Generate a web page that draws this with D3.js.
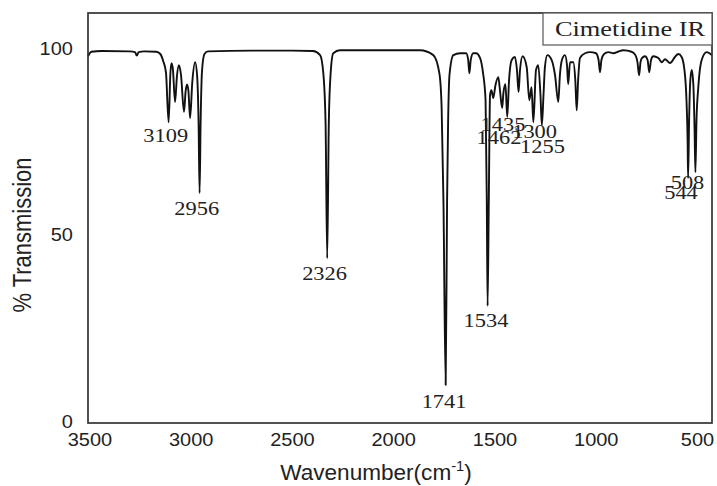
<!DOCTYPE html>
<html><head><meta charset="utf-8">
<script src="https://cdn.jsdelivr.net/npm/d3@7"></script>
<style>body{margin:0;background:#fff}</style>
</head><body><svg id="c" width="717" height="486"></svg>
<script>
// ---- data ----
const wavenumber = [3507,3490,3440,3300,3275,3266,3257,3230,3170,3150,3135,3122,3109,3100,3095,3088,3077,3068,3058,3048,3033,3025,3018,3011,3003,2992,2978,2968,2961,2956,2951,2944,2932,2915,2700,2500,2396,2361,2345,2334,2326,2318,2309,2296,2263,2000,1868,1802,1772,1761,1752,1741,1734,1729,1722,1703,1670,1640,1630,1624,1617,1605,1591,1571,1557,1544,1538,1534,1528,1522,1515,1506,1495,1481,1473,1462,1456,1446,1437,1428,1415,1399,1389,1381,1374,1361,1341,1328,1317,1308,1295,1284,1273,1266,1258,1251,1239,1218,1201,1185,1177,1167,1152,1142,1136,1127,1111,1101,1094,1087,1078,1053,1028,999,986,979,972,959,938,913,890,864,823,804,794,786,779,772,757,744,736,727,716,691,674,658,633,609,592,576,562,552,546.5,544,539,533,526,518,512,508,502.5,494,477,452,427];
const transmission = [97.9,99.1,99.3,99.2,99.0,98.1,99.0,99.2,99.1,98.5,96.5,93.5,80.2,93.5,96.0,94.5,85.6,92.5,95.5,93.0,83.0,88.5,90.3,88.5,81.3,91.0,96.3,92.5,80.0,61.2,80.0,94.0,98.5,99.2,99.4,99.4,99.3,98.2,93.3,80.0,43.7,80.0,93.3,98.7,99.5,99.5,99.5,98.2,93.3,84.3,59.3,9.7,59.3,80.0,93.0,98.2,98.7,98.7,97.0,93.3,97.0,98.7,98.7,97.4,93.6,86.1,59.3,30.9,59.3,87.5,88.8,86.7,90.2,92.3,88.8,84.0,88.0,90.4,81.6,91.5,96.9,97.7,94.2,88.3,94.2,97.9,95.0,86.1,89.6,80.2,94.2,95.5,87.5,79.4,87.5,95.0,98.2,96.9,92.8,85.6,92.8,96.9,98.2,95.5,90.4,96.3,96.3,91.5,83.4,91.5,97.4,98.7,99.0,98.7,96.9,93.6,96.9,98.5,99.0,98.7,99.1,99.5,99.1,98.2,96.3,92.8,96.3,97.4,97.9,96.9,93.6,96.9,97.9,97.4,96.3,97.1,96.1,97.7,98.5,97.7,94.2,86.1,75.4,65.2,80.8,91.5,94.2,90.2,78.1,66.8,80.8,89.3,96.9,99.0,98.2];
const xTicks = [3500,3000,2500,2000,1500,1000,500];
const yTicks = [0,50,100];
const peakText = ["3109","2956","2326","1741","1534","1435","1462","1300","1255","508","544"];
const peakLabelWn = [3123,2970,2339,1749,1542,1458,1478,1302,1263,547,579];
const peakLabelT = [75.0,55.3,37.9,3.5,25.2,77.8,74.4,76.0,71.9,62.3,59.6];
const legendText = "Cimetidine IR";
const xTitle = "Wavenumber(cm";
const xTitleSup = "-1";
const yTitle = "% Transmission";

// ---- drawing ----
const svg = d3.select("#c");
const L = 88, R = 712, T = 13, B = 423;
const x = d3.scaleLinear().domain([3507, 426]).range([L, R]);
const y = d3.scaleLinear().domain([-0.5, 109.5]).range([B, T]);
const sans = "'Liberation Sans', Arial, sans-serif";
const serif = "'Liberation Serif', 'Times New Roman', serif";

svg.append("rect").attr("width",717).attr("height",486).attr("fill","#fff");

const pts = wavenumber.map((w,i)=>[w, transmission[i]]);
const line = d3.line().x(d=>x(d[0])).y(d=>y(d[1])).curve(d3.curveMonotoneX);
svg.append("path").datum(pts).attr("d", line)
  .attr("fill","none").attr("stroke","#111").attr("stroke-width",1.9)
  .attr("stroke-linejoin","round");

// frame
svg.append("rect").attr("x",L).attr("y",T).attr("width",R-L).attr("height",B-T)
  .attr("fill","none").attr("stroke","#333").attr("stroke-width",1.7);

// axes
const gx = svg.append("g").attr("transform",`translate(0,${B})`)
  .call(d3.axisBottom(x).tickValues(xTicks).tickSize(0).tickPadding(10).tickFormat(d3.format("d")));
gx.select(".domain").remove();
gx.selectAll("text").attr("font-family",sans).attr("font-size",18.5).attr("fill","#222")
  .attr("transform","scale(1.08,1)");
const gy = svg.append("g").attr("transform",`translate(${L},0)`)
  .call(d3.axisLeft(y).tickValues(yTicks).tickSize(0).tickPadding(14).tickFormat(d3.format("d")));
gy.select(".domain").remove();
gy.selectAll("text").attr("font-family",sans).attr("font-size",18.5).attr("fill","#222")
  .attr("transform","scale(1.08,1)");

// axis titles
const xt = svg.append("text").attr("transform","translate(376,480) scale(1.05,1)")
  .attr("text-anchor","middle").attr("font-family",sans).attr("font-size",21.5).attr("fill","#222");
xt.append("tspan").text(xTitle);
xt.append("tspan").attr("font-size",14).attr("dy",-9).text(xTitleSup);
xt.append("tspan").attr("dy",9).text(")");

svg.append("text").attr("transform","translate(31,235) rotate(-90) scale(1,1.15)")
  .attr("text-anchor","middle").attr("font-family",sans).attr("font-size",22).attr("fill","#222")
  .text(yTitle);

// peak labels
svg.append("g").selectAll("text").data(peakText).join("text")
  .attr("transform",(d,i)=>`translate(${x(peakLabelWn[i])},${y(peakLabelT[i])}) scale(1.15,1)`)
  .attr("text-anchor","middle").attr("font-family",serif).attr("font-size",19.5).attr("fill","#222")
  .text(d=>d);

// legend box
svg.append("rect").attr("x",543).attr("y",T).attr("width",R-543).attr("height",32)
  .attr("fill","#fff").attr("stroke","#555").attr("stroke-width",1.2);
svg.append("text").attr("transform","translate(630,36) scale(1.2,1)")
  .attr("text-anchor","middle").attr("font-family",serif).attr("font-size",22).attr("fill","#222")
  .text(legendText);
</script>
</body></html>
